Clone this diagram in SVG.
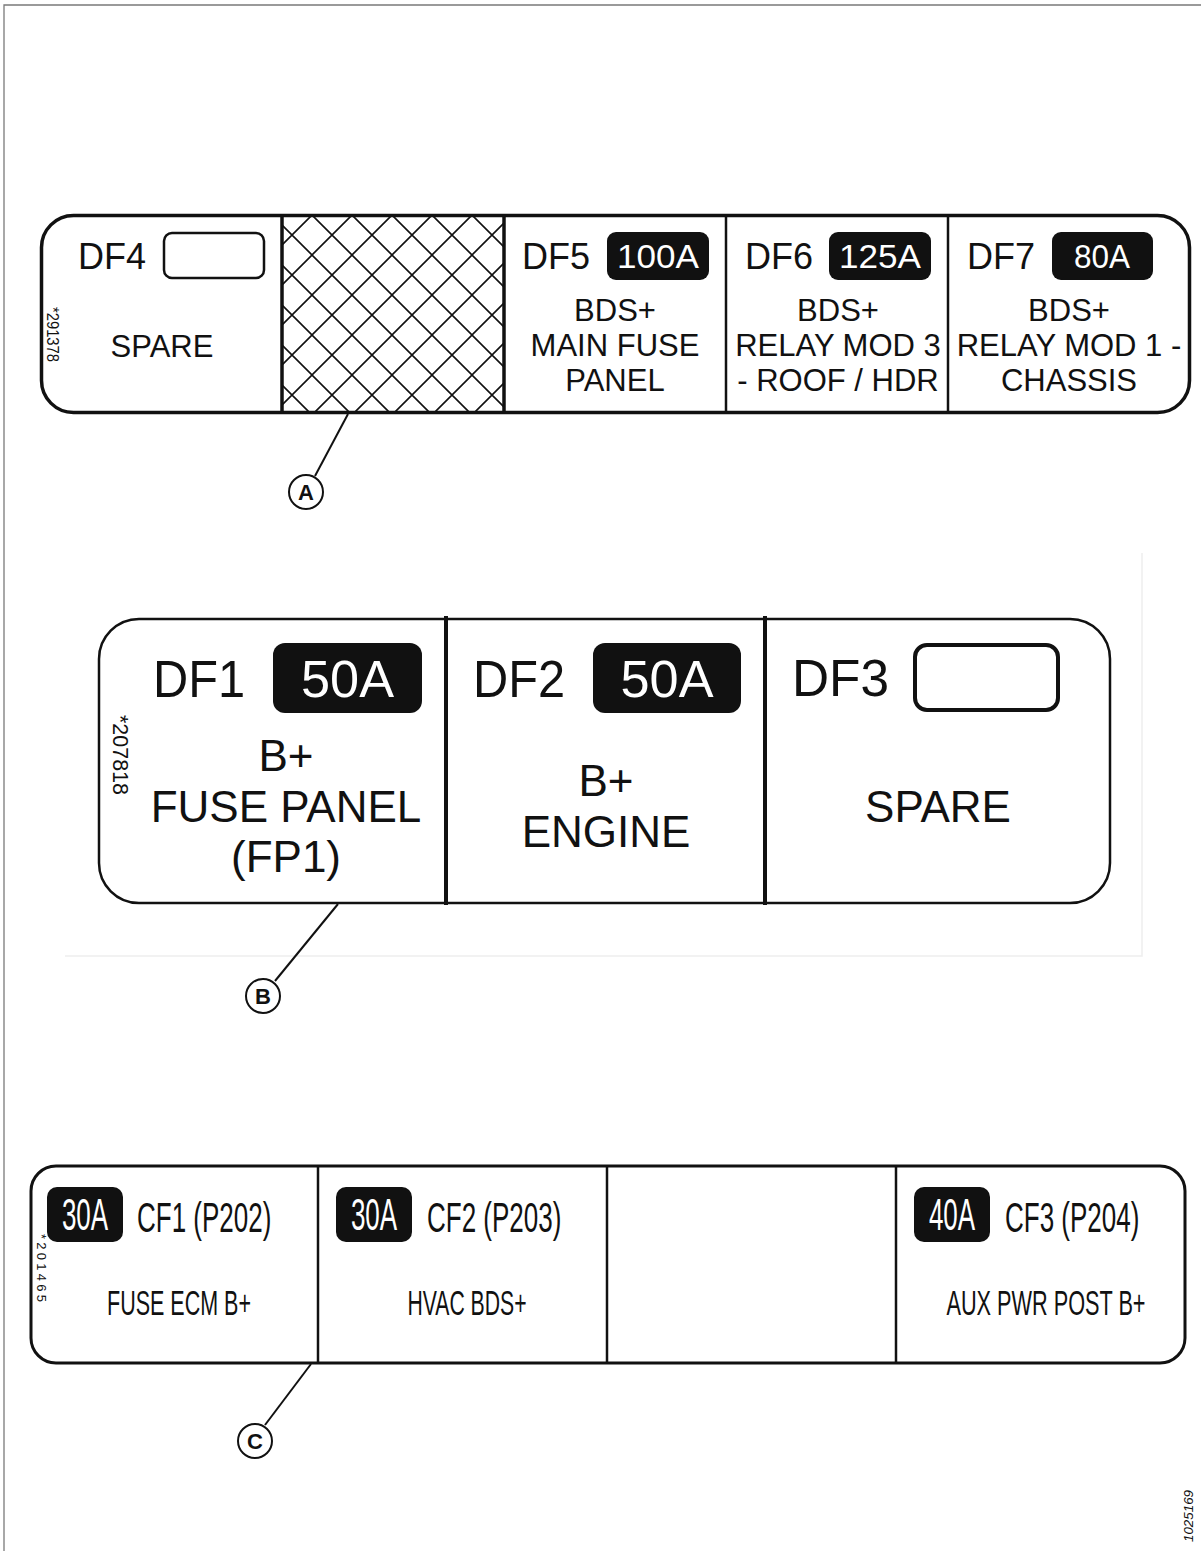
<svg xmlns="http://www.w3.org/2000/svg" width="1201" height="1551" viewBox="0 0 1201 1551">
<style>
text{font-family:"Liberation Sans",Arial,sans-serif;fill:#111}
.frame{fill:#fff;stroke:#111}
.div{stroke:#111}
.badge{fill:#111}
.bt{fill:#fff}
.box{fill:none;stroke:#111}
.lead{stroke:#111;stroke-width:2;fill:none}
.call{fill:#fff;stroke:#111;stroke-width:2}
.cl{font-weight:bold;font-size:22px;text-anchor:middle}
.mid{text-anchor:middle}
.amp{font-size:26px}
.cfl{font-size:26px}
</style>
<defs>
<pattern id="hatch" patternUnits="userSpaceOnUse" x="32" y="15" width="40" height="40">
<path d="M0,0 L40,40 M40,0 L0,40 M-10,30 L10,50 M30,-10 L50,10 M-10,10 L10,-10 M30,50 L50,30" stroke="#111" stroke-width="1.6" fill="none"/>
</pattern>
</defs>
<rect width="1201" height="1551" fill="#fff"/>
<g id="page-border">
<path d="M4,1551 V5 H1201" fill="none" stroke="#7a7a7a" stroke-width="1.3"/>
</g>

<!-- Panel A -->
<g id="panel-a">
<rect class="frame" x="41.5" y="215.5" width="1148" height="197" rx="32" stroke-width="3.5"/>
<rect x="282" y="217" width="222" height="194" fill="url(#hatch)"/>
<line class="div" x1="282" y1="215" x2="282" y2="413" stroke-width="3.5"/>
<line class="div" x1="504" y1="215" x2="504" y2="413" stroke-width="3.5"/>
<line class="div" x1="726" y1="215" x2="726" y2="413" stroke-width="2.5"/>
<line class="div" x1="948" y1="215" x2="948" y2="413" stroke-width="2.5"/>
<text x="47" y="307" font-size="16" textLength="55" lengthAdjust="spacingAndGlyphs" transform="rotate(90 47 307)">*291378</text>
</g>
<g id="df4">
<text x="78" y="269" font-size="36">DF4</text>
<rect class="box" x="164" y="233" width="100" height="45" rx="8" stroke-width="2.5"/>
<text class="mid" x="162" y="357" font-size="31">SPARE</text>
</g>
<g id="df5">
<text x="522" y="269" font-size="36">DF5</text>
<rect class="badge" x="607" y="232" width="102" height="48" rx="9"/>
<text class="bt mid" x="658" y="268" font-size="34" textLength="82" lengthAdjust="spacingAndGlyphs">100A</text>
<text class="mid" x="615" y="321" font-size="31">BDS+</text>
<text class="mid" x="615" y="356" font-size="31">MAIN FUSE</text>
<text class="mid" x="615" y="391" font-size="31">PANEL</text>
</g>
<g id="df6">
<text x="745" y="269" font-size="36">DF6</text>
<rect class="badge" x="829" y="232" width="102" height="48" rx="9"/>
<text class="bt mid" x="880" y="268" font-size="34" textLength="82" lengthAdjust="spacingAndGlyphs">125A</text>
<text class="mid" x="838" y="321" font-size="31">BDS+</text>
<text class="mid" x="838" y="356" font-size="31">RELAY MOD 3</text>
<text class="mid" x="838" y="391" font-size="31">- ROOF / HDR</text>
</g>
<g id="df7">
<text x="967" y="269" font-size="36">DF7</text>
<rect class="badge" x="1052" y="232" width="101" height="48" rx="9"/>
<text class="bt mid" x="1102" y="268" font-size="34" textLength="56" lengthAdjust="spacingAndGlyphs">80A</text>
<text class="mid" x="1069" y="321" font-size="31">BDS+</text>
<text class="mid" x="1069" y="356" font-size="31">RELAY MOD 1 -</text>
<text class="mid" x="1069" y="391" font-size="31">CHASSIS</text>
</g>

<!-- Panel B -->
<g id="panel-b">
<path d="M65,956 H1142 V553" fill="none" stroke="#eeeeee" stroke-width="1.5"/>
<rect class="frame" x="99" y="619" width="1011" height="284" rx="40" stroke-width="2.5"/>
<line class="div" x1="446" y1="616" x2="446" y2="905" stroke-width="4"/>
<line class="div" x1="765" y1="616" x2="765" y2="905" stroke-width="4"/>
<text x="113" y="715" font-size="22" textLength="80" lengthAdjust="spacingAndGlyphs" transform="rotate(90 113 715)">*207818</text>
</g>
<g id="df1">
<text x="153" y="697" font-size="51" textLength="92" lengthAdjust="spacingAndGlyphs">DF1</text>
<rect class="badge" x="273" y="643" width="149" height="70" rx="12"/>
<text class="bt mid" x="347.5" y="697" font-size="52" textLength="93" lengthAdjust="spacingAndGlyphs">50A</text>
<text class="mid" x="286" y="771" font-size="44">B+</text>
<text class="mid" x="286" y="822" font-size="44">FUSE PANEL</text>
<text class="mid" x="286" y="872" font-size="44">(FP1)</text>
</g>
<g id="df2">
<text x="473" y="697" font-size="51" textLength="92" lengthAdjust="spacingAndGlyphs">DF2</text>
<rect class="badge" x="593" y="643" width="148" height="70" rx="12"/>
<text class="bt mid" x="667" y="697" font-size="52" textLength="93" lengthAdjust="spacingAndGlyphs">50A</text>
<text class="mid" x="606" y="796" font-size="44">B+</text>
<text class="mid" x="606" y="847" font-size="44">ENGINE</text>
</g>
<g id="df3">
<text x="792" y="696" font-size="51" textLength="97" lengthAdjust="spacingAndGlyphs">DF3</text>
<rect class="box" x="915" y="645" width="143" height="65" rx="12" stroke-width="4"/>
<text class="mid" x="938" y="822" font-size="44">SPARE</text>
</g>

<!-- Panel C -->
<g id="panel-c">
<rect class="frame" x="31" y="1166" width="1154" height="197" rx="25" stroke-width="3"/>
<line class="div" x1="318" y1="1166" x2="318" y2="1363" stroke-width="2.5"/>
<line class="div" x1="607" y1="1166" x2="607" y2="1363" stroke-width="2.5"/>
<line class="div" x1="896" y1="1166" x2="896" y2="1363" stroke-width="2.5"/>
<text x="37" y="1234" font-size="13" textLength="68" lengthAdjust="spacing" transform="rotate(90 37 1234)">*201465</text>
</g>
<g id="cf1">
<rect class="badge" x="47" y="1187" width="76" height="55" rx="10"/>
<text class="bt mid amp" transform="translate(85 1230) scale(1 1.7)">30A</text>
<text class="cfl" transform="translate(137 1232) scale(1 1.6)">CF1 (P202)</text>
<text class="mid" font-size="21.5" transform="translate(179 1315) scale(1 1.62)">FUSE ECM B+</text>
</g>
<g id="cf2">
<rect class="badge" x="336" y="1187" width="76" height="55" rx="10"/>
<text class="bt mid amp" transform="translate(374 1230) scale(1 1.7)">30A</text>
<text class="cfl" transform="translate(427 1232) scale(1 1.6)">CF2 (P203)</text>
<text class="mid" font-size="21.2" transform="translate(467 1315) scale(1 1.65)">HVAC BDS+</text>
</g>
<g id="cf-empty"></g>
<g id="cf3">
<rect class="badge" x="914" y="1187" width="76" height="55" rx="10"/>
<text class="bt mid amp" transform="translate(952 1230) scale(1 1.7)">40A</text>
<text class="cfl" transform="translate(1005 1232) scale(1 1.6)">CF3 (P204)</text>
<text class="mid" font-size="21.7" transform="translate(1046 1315) scale(1 1.6)">AUX PWR POST B+</text>
</g>

<!-- Connectors (leader lines) -->
<g id="connectors">
<line class="lead" x1="348" y1="414" x2="315" y2="476"/>
<line class="lead" x1="338" y1="904" x2="275" y2="981"/>
<line class="lead" x1="311" y1="1364" x2="265" y2="1425"/>
</g>
<g id="callout-a">
<circle class="call" cx="306" cy="492" r="17"/>
<text class="cl" x="306" y="500">A</text>
</g>
<g id="callout-b">
<circle class="call" cx="263" cy="996" r="17"/>
<text class="cl" x="263" y="1004">B</text>
</g>
<g id="callout-c">
<circle class="call" cx="255" cy="1441" r="17"/>
<text class="cl" x="255" y="1449">C</text>
</g>
<g id="figure-id">
<text x="1193" y="1542" font-size="13" font-style="italic" textLength="52" lengthAdjust="spacingAndGlyphs" transform="rotate(-90 1193 1542)">1025169</text>
</g>
</svg>
